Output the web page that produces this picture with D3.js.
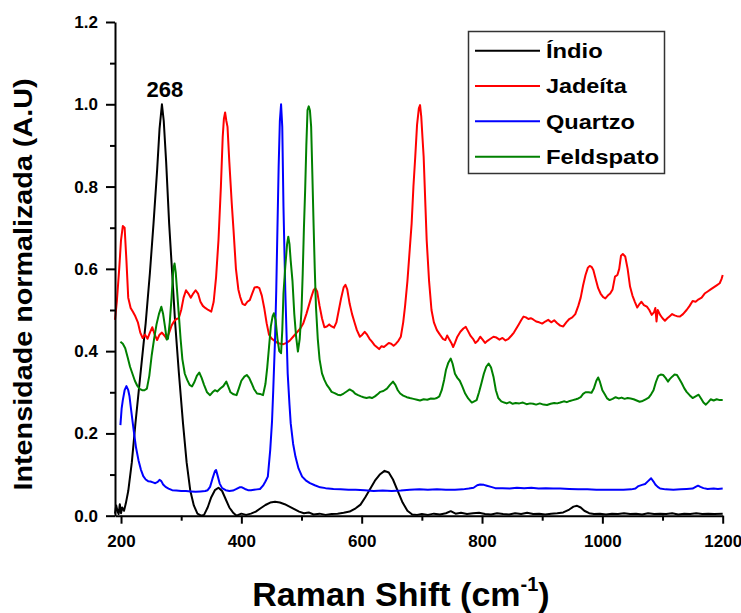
<!DOCTYPE html>
<html>
<head>
<meta charset="utf-8">
<script src="https://cdn.jsdelivr.net/npm/d3@7"></script>
<style>
  html, body { margin: 0; padding: 0; background: #fff; }
  svg { display: block; }
  text { font-family: "Liberation Sans", Arial, sans-serif; font-weight: bold; fill: #000; }
</style>
</head>
<body>
<svg id="chart" width="741" height="613"></svg>
<script>
// Raman spectra: [shift (cm^-1), normalized intensity]
const indio = [
  [190,0.005],[192,0.025],[194,0.012],[196,0.004],[198,0.028],[200,0.006],[202,0.02],[205,0.012],[208,0.03],
  [212,0.06],[218,0.13],[224,0.225],[232,0.34],[241,0.468],[248,0.59],[254,0.71],[260,0.84],[264,0.94],
  [268,1.0],[271,0.96],[275,0.86],[280,0.71],[285,0.59],[290,0.468],[296,0.35],[303,0.225],[309,0.13],
  [315,0.062],[321,0.025],[327,0.005],[333,0.0],[338,0.002],[344,0.02],[350,0.045],[356,0.062],[362,0.068],
  [368,0.06],[374,0.04],[380,0.02],[386,0.008],[392,0.0],[400,0.005],[408,0.002],[416,0.005],[424,0.01],
  [432,0.018],[440,0.026],[448,0.032],[456,0.034],[464,0.032],[472,0.028],[480,0.022],[488,0.016],[496,0.01],
  [504,0.006],[512,0.008],[520,0.003],[530,0.005],[540,0.002],[550,0.004],[560,0.005],[570,0.007],[580,0.01],
  [590,0.018],[598,0.027],[606,0.045],[614,0.065],[622,0.085],[630,0.1],[638,0.109],[645,0.105],[652,0.088],
  [660,0.06],[668,0.032],[676,0.012],[684,0.003],[692,0.002],[700,0.004],[710,0.002],[720,0.005],[730,0.003],
  [740,0.006],[748,0.011],[756,0.005],[765,0.007],[775,0.004],[785,0.006],[795,0.007],[805,0.004],[815,0.003],
  [825,0.006],[835,0.004],[845,0.003],[855,0.006],[865,0.004],[875,0.007],[885,0.004],[895,0.005],[905,0.003],
  [915,0.005],[925,0.006],[935,0.008],[945,0.015],[952,0.022],[958,0.024],[964,0.02],[970,0.012],[978,0.006],
  [986,0.004],[996,0.005],[1006,0.003],[1016,0.005],[1026,0.004],[1036,0.006],[1046,0.004],[1056,0.005],
  [1066,0.003],[1076,0.006],[1086,0.004],[1096,0.005],[1106,0.004],[1116,0.006],[1126,0.003],[1136,0.005],
  [1146,0.004],[1156,0.006],[1166,0.004],[1176,0.005],[1186,0.004],[1200,0.005]
];

const jadeita = [
  [190,0.476],[193,0.52],[197,0.6],[200,0.67],[203,0.704],[206,0.7],[209,0.62],[212,0.53],[216,0.505],
  [220,0.495],[224,0.484],[228,0.47],[232,0.445],[236,0.432],[240,0.44],[244,0.43],[248,0.445],[252,0.458],
  [256,0.44],[260,0.427],[264,0.44],[268,0.445],[272,0.438],[276,0.43],[280,0.445],[284,0.462],[288,0.472],
  [292,0.478],[296,0.48],[300,0.5],[304,0.53],[308,0.548],[312,0.54],[316,0.53],[320,0.54],[324,0.548],
  [328,0.54],[332,0.52],[336,0.51],[340,0.505],[345,0.5],[350,0.496],[354,0.52],[358,0.58],[362,0.67],
  [366,0.8],[369,0.92],[371,0.965],[373,0.98],[375,0.96],[377,0.945],[380,0.86],[384,0.76],[387,0.694],
  [391,0.6],[395,0.55],[398,0.532],[402,0.515],[406,0.512],[410,0.52],[414,0.524],[418,0.54],[422,0.555],
  [426,0.556],[430,0.553],[434,0.535],[438,0.505],[442,0.468],[446,0.44],[450,0.431],[455,0.425],[460,0.42],
  [465,0.418],[470,0.417],[475,0.42],[480,0.425],[486,0.435],[492,0.445],[498,0.455],[503,0.468],[508,0.49],
  [512,0.51],[516,0.53],[520,0.548],[523,0.553],[526,0.545],[530,0.51],[534,0.48],[538,0.458],[542,0.46],
  [546,0.465],[550,0.46],[554,0.457],[558,0.47],[562,0.5],[566,0.53],[570,0.555],[573,0.561],[576,0.55],
  [580,0.515],[584,0.49],[588,0.47],[592,0.451],[597,0.435],[601,0.44],[605,0.447],[609,0.44],[613,0.43],
  [617,0.423],[621,0.415],[625,0.41],[629,0.405],[633,0.412],[637,0.41],[641,0.415],[645,0.42],[649,0.418],
  [653,0.413],[657,0.418],[661,0.425],[665,0.435],[669,0.47],[672,0.508],[676,0.57],[680,0.65],[683,0.71],
  [686,0.8],[689,0.872],[692,0.95],[695,0.99],[697,0.998],[699,0.97],[701,0.92],[703,0.872],[706,0.75],
  [708,0.67],[712,0.57],[716,0.5],[720,0.47],[725,0.451],[730,0.44],[735,0.43],[739,0.427],[742,0.438],
  [745,0.43],[749,0.42],[752,0.41],[755,0.42],[759,0.435],[764,0.447],[769,0.455],[773,0.459],[777,0.448],
  [781,0.437],[785,0.43],[789,0.42],[793,0.425],[797,0.435],[801,0.428],[805,0.42],[809,0.425],[814,0.43],
  [819,0.435],[824,0.433],[829,0.428],[834,0.432],[839,0.426],[844,0.43],[849,0.438],[853,0.445],[857,0.455],
  [861,0.465],[865,0.475],[869,0.484],[873,0.482],[877,0.478],[881,0.48],[885,0.477],[890,0.472],[895,0.47],
  [900,0.467],[905,0.472],[910,0.476],[915,0.47],[920,0.475],[925,0.468],[930,0.462],[935,0.46],[940,0.47],
  [945,0.478],[950,0.482],[955,0.49],[960,0.51],[964,0.53],[968,0.56],[972,0.585],[976,0.603],[979,0.607],
  [982,0.605],[985,0.597],[989,0.575],[993,0.553],[997,0.54],[1001,0.532],[1005,0.528],[1009,0.535],
  [1013,0.54],[1017,0.55],[1021,0.581],[1025,0.585],[1028,0.6],[1031,0.632],[1034,0.636],[1038,0.63],
  [1042,0.6],[1046,0.557],[1050,0.535],[1054,0.52],[1058,0.506],[1062,0.515],[1065,0.52],[1069,0.512],
  [1074,0.508],[1078,0.5],[1082,0.488],[1086,0.495],[1088,0.505],[1090,0.472],[1092,0.5],[1096,0.488],
  [1100,0.48],[1104,0.474],[1108,0.48],[1112,0.485],[1116,0.49],[1120,0.487],[1124,0.485],[1129,0.484],
  [1134,0.49],[1140,0.5],[1145,0.51],[1150,0.522],[1155,0.52],[1160,0.526],[1165,0.53],[1170,0.54],
  [1175,0.545],[1180,0.55],[1185,0.555],[1190,0.56],[1195,0.565],[1198,0.575],[1200,0.585]
];

const quartzo = [
  [199,0.22],[201,0.26],[203,0.281],[206,0.305],[209,0.315],[212,0.305],[214,0.291],[217,0.255],[221,0.208],
  [225,0.165],[229,0.135],[233,0.112],[237,0.096],[241,0.088],[245,0.084],[249,0.083],[253,0.081],[257,0.079],
  [261,0.082],[264,0.087],[267,0.084],[270,0.076],[274,0.07],[279,0.066],[285,0.062],[292,0.061],[300,0.06],
  [308,0.06],[316,0.059],[324,0.058],[332,0.059],[340,0.06],[344,0.062],[348,0.07],[352,0.09],[356,0.108],
  [358,0.111],[361,0.095],[364,0.078],[368,0.067],[374,0.062],[380,0.06],[386,0.061],[392,0.065],[397,0.069],
  [401,0.069],[406,0.065],[411,0.062],[416,0.062],[421,0.063],[426,0.064],[431,0.065],[436,0.073],[440,0.083],
  [444,0.095],[448,0.16],[451,0.23],[453,0.305],[456,0.43],[458,0.548],[460,0.7],[462,0.85],[464,0.96],
  [466,1.0],[468,0.945],[470,0.751],[473,0.548],[477,0.346],[480,0.27],[482,0.225],[486,0.175],[490,0.143],
  [495,0.115],[501,0.095],[507,0.086],[514,0.079],[522,0.074],[531,0.069],[540,0.067],[553,0.065],[565,0.064],
  [578,0.063],[590,0.063],[605,0.062],[620,0.06],[635,0.061],[650,0.06],[665,0.061],[680,0.063],[696,0.064],
  [710,0.063],[725,0.064],[740,0.063],[755,0.063],[768,0.064],[778,0.066],[786,0.068],[792,0.074],[797,0.076],
  [803,0.075],[808,0.073],[815,0.07],[822,0.067],[834,0.067],[846,0.066],[858,0.068],[870,0.067],[882,0.068],
  [894,0.066],[906,0.067],[918,0.066],[930,0.066],[945,0.065],[960,0.064],[975,0.064],[990,0.063],[1005,0.063],
  [1020,0.063],[1035,0.063],[1048,0.064],[1055,0.066],[1060,0.072],[1066,0.075],[1071,0.077],[1076,0.084],
  [1081,0.091],[1085,0.083],[1088,0.076],[1092,0.07],[1096,0.066],[1105,0.064],[1118,0.063],[1130,0.064],
  [1140,0.065],[1150,0.066],[1155,0.07],[1159,0.073],[1163,0.07],[1168,0.067],[1175,0.065],[1185,0.066],
  [1192,0.065],[1200,0.066]
];

const feldspato = [
  [199,0.423],[203,0.418],[207,0.407],[211,0.385],[215,0.362],[219,0.345],[223,0.328],[227,0.316],[231,0.308],
  [235,0.305],[239,0.305],[243,0.309],[247,0.34],[251,0.39],[255,0.43],[259,0.465],[263,0.49],[267,0.508],
  [270,0.49],[273,0.46],[276,0.428],[278,0.43],[281,0.47],[284,0.53],[287,0.6],[289,0.613],[291,0.59],
  [293,0.55],[296,0.49],[299,0.43],[302,0.38],[306,0.345],[310,0.33],[314,0.318],[318,0.314],[322,0.325],
  [326,0.34],[330,0.348],[334,0.335],[338,0.318],[343,0.3],[348,0.293],[352,0.3],[356,0.305],[360,0.302],
  [365,0.309],[370,0.315],[375,0.326],[378,0.315],[382,0.3],[387,0.295],[392,0.293],[396,0.31],[400,0.328],
  [405,0.338],[409,0.342],[413,0.335],[417,0.322],[421,0.308],[426,0.297],[431,0.296],[436,0.293],[440,0.32],
  [443,0.36],[446,0.41],[449,0.46],[452,0.485],[454,0.492],[457,0.475],[460,0.43],[463,0.4],[466,0.395],
  [468,0.45],[470,0.54],[473,0.605],[476,0.66],[478,0.678],[480,0.66],[482,0.62],[485,0.57],[488,0.49],
  [491,0.435],[494,0.399],[497,0.43],[500,0.5],[502,0.59],[504,0.7],[506,0.79],[508,0.9],[510,0.986],
  [512,0.995],[514,0.985],[516,0.945],[518,0.83],[520,0.71],[522,0.6],[524,0.508],[527,0.43],[530,0.38],
  [534,0.346],[538,0.33],[542,0.318],[546,0.31],[550,0.301],[555,0.298],[560,0.294],[565,0.293],[570,0.297],
  [575,0.302],[580,0.307],[585,0.303],[589,0.297],[594,0.293],[599,0.29],[603,0.288],[608,0.286],[613,0.288],
  [617,0.286],[622,0.29],[627,0.296],[631,0.301],[636,0.303],[642,0.309],[647,0.318],[652,0.326],[656,0.318],
  [660,0.305],[664,0.297],[669,0.292],[675,0.288],[680,0.286],[686,0.284],[692,0.282],[697,0.28],[703,0.283],
  [709,0.282],[715,0.285],[720,0.284],[725,0.286],[729,0.29],[733,0.305],[737,0.33],[740,0.354],[744,0.372],
  [748,0.382],[751,0.37],[755,0.345],[759,0.335],[763,0.328],[767,0.315],[772,0.297],[777,0.285],[783,0.275],
  [787,0.278],[791,0.281],[795,0.3],[799,0.322],[803,0.345],[807,0.362],[811,0.37],[815,0.36],[819,0.338],
  [823,0.305],[827,0.286],[832,0.278],[837,0.275],[841,0.273],[846,0.276],[851,0.272],[856,0.274],[862,0.273],
  [868,0.275],[874,0.271],[880,0.273],[885,0.272],[890,0.27],[896,0.273],[902,0.27],[908,0.269],[914,0.272],
  [920,0.274],[925,0.273],[930,0.275],[936,0.278],[941,0.276],[946,0.279],[951,0.281],[956,0.283],[960,0.285],
  [964,0.288],[968,0.296],[972,0.3],[977,0.3],[982,0.299],[986,0.31],[990,0.328],[993,0.336],[996,0.325],
  [1000,0.305],[1004,0.295],[1008,0.285],[1012,0.281],[1017,0.284],[1022,0.288],[1027,0.285],[1032,0.287],
  [1037,0.284],[1042,0.286],[1047,0.285],[1052,0.283],[1057,0.28],[1062,0.277],[1067,0.279],[1072,0.283],
  [1077,0.287],[1081,0.295],[1085,0.305],[1089,0.325],[1093,0.34],[1097,0.343],[1101,0.342],[1105,0.335],
  [1109,0.326],[1112,0.332],[1116,0.338],[1120,0.343],[1124,0.342],[1128,0.332],[1132,0.322],[1136,0.31],
  [1140,0.301],[1145,0.293],[1150,0.286],[1155,0.29],[1160,0.294],[1164,0.285],[1168,0.275],[1172,0.27],
  [1176,0.276],[1180,0.283],[1185,0.28],[1190,0.283],[1195,0.281],[1200,0.281]
];

const seriesNames = ["Índio", "Jadeíta", "Quartzo", "Feldspato"];
const seriesColors = ["#000000", "#ff0000", "#0000ff", "#008000"];
const seriesData = [indio, jadeita, quartzo, feldspato];

const xMajorTicks = [200, 400, 600, 800, 1000, 1200];
const xMinorTicks = [300, 500, 700, 900, 1100];
const yMajorTicks = [0, 0.2, 0.4, 0.6, 0.8, 1.0, 1.2];
const yMinorTicks = [0.1, 0.3, 0.5, 0.7, 0.9, 1.1];

const peakLabel = { shift: 268, value: 1.0, text: "268" };

// ---- layout ----
const svg = d3.select("#chart");
const plot = { left: 115, right: 722.7, top: 22, bottom: 515.7 };

const x = d3.scaleLinear().domain([190, 1200]).range([plot.left, plot.right]);
const y = d3.scaleLinear().domain([0, 1.2]).range([plot.bottom, plot.top]);

// ---- spectra ----
const line = d3.line().x(d => x(d[0])).y(d => y(d[1])).curve(d3.curveLinear);

svg.append("g").selectAll("path")
  .data(seriesData)
  .join("path")
  .attr("d", d => line(d))
  .attr("fill", "none")
  .attr("stroke", (d, i) => seriesColors[i])
  .attr("stroke-width", 2)
  .attr("stroke-linejoin", "round");

// ---- axes ----
function styleAxis(g) {
  g.selectAll(".domain").attr("stroke", "#000").attr("stroke-width", 2);
  g.selectAll(".tick line").attr("stroke", "#000").attr("stroke-width", 2);
}
function styleTickText(g) {
  g.selectAll(".tick text")
    .style("font-size", "17px")
    .style("font-family", "'Liberation Sans', Arial, sans-serif")
    .style("font-weight", "bold")
    .attr("fill", "#000");
}

svg.append("g")
  .attr("transform", `translate(0,${plot.bottom})`)
  .call(d3.axisBottom(x).tickValues(xMajorTicks).tickSize(8).tickSizeOuter(0).tickPadding(11)
    .tickFormat(d3.format("d")))
  .call(styleAxis)
  .call(styleTickText);

svg.append("g")
  .attr("transform", `translate(0,${plot.bottom})`)
  .call(d3.axisBottom(x).tickValues(xMinorTicks).tickSize(5).tickFormat(""))
  .call(g => g.select(".domain").remove())
  .call(styleAxis);

svg.append("g")
  .attr("transform", `translate(${plot.left},0)`)
  .call(d3.axisLeft(y).tickValues(yMajorTicks).tickSize(9).tickSizeOuter(0).tickPadding(8)
    .tickFormat(d3.format(".1f")))
  .call(styleAxis)
  .call(styleTickText);

svg.append("g")
  .attr("transform", `translate(${plot.left},0)`)
  .call(d3.axisLeft(y).tickValues(yMinorTicks).tickSize(5).tickFormat(""))
  .call(g => g.select(".domain").remove())
  .call(styleAxis);

// ---- peak annotation ----
svg.append("text")
  .attr("x", x(peakLabel.shift) + 3)
  .attr("y", y(peakLabel.value) - 7)
  .attr("text-anchor", "middle")
  .style("font-size", "22px")
  .text(peakLabel.text);

// ---- axis titles ----
const xTitle = svg.append("text")
  .attr("x", 401)
  .attr("y", 606)
  .attr("text-anchor", "middle")
  .style("font-size", "34px");
xTitle.append("tspan").text("Raman Shift (cm");
xTitle.append("tspan").attr("dy", -15).style("font-size", "20px").text("-1");
xTitle.append("tspan").attr("dy", 15).text(")");

svg.append("text")
  .attr("transform", "translate(31.5,284.5) rotate(-90)")
  .attr("text-anchor", "middle")
  .attr("textLength", 412)
  .attr("lengthAdjust", "spacingAndGlyphs")
  .style("font-size", "26px")
  .text("Intensidade normalizada (A.U)");

// ---- legend ----
const legendTextWidths = [56.7, 80.7, 89, 113];
const legend = svg.append("g");
legend.append("rect")
  .attr("x", 468.5).attr("y", 31.5)
  .attr("width", 196).attr("height", 142)
  .attr("fill", "#fff")
  .attr("stroke", "#333")
  .attr("stroke-width", 1.5);

const rowY = d3.scalePoint().domain(seriesNames).range([50.7, 156.7]);
const rows = legend.selectAll("g.row")
  .data(seriesNames)
  .join("g")
  .attr("class", "row")
  .attr("transform", d => `translate(0,${rowY(d)})`);
rows.append("line")
  .attr("x1", 475).attr("x2", 540)
  .attr("stroke", (d, i) => seriesColors[i])
  .attr("stroke-width", 2);
rows.append("text")
  .attr("x", 546)
  .attr("dy", "0.36em")
  .attr("textLength", (d, i) => legendTextWidths[i])
  .attr("lengthAdjust", "spacingAndGlyphs")
  .style("font-size", "20px")
  .text(d => d);
</script>
</body>
</html>
